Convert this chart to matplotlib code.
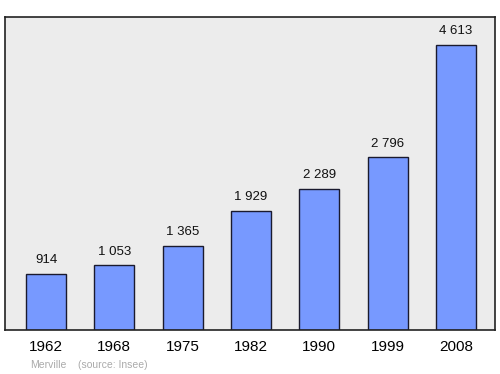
import matplotlib
matplotlib.use("Agg")
import matplotlib.pyplot as plt

years = ["1962", "1968", "1975", "1982", "1990", "1999", "2008"]
population = [914, 1053, 1365, 1929, 2289, 2796, 4613]
labels = ["914", "1 053", "1 365", "1 929", "2 289", "2 796", "4 613"]

plt.rcParams['font.family'] = ['Liberation Sans', 'DejaVu Sans']

fig = plt.figure(figsize=(5, 3.74), dpi=100)
ax = fig.add_axes([0.01, 0.1176, 0.98, 0.837])
ax.set_facecolor("#ececec")
x = list(range(len(years)))
ax.bar(x, population, width=0.585, color="#7799ff", edgecolor="#1a1a2e", linewidth=1.0)
for xi, v, lab in zip(x, population, labels):
    ax.text(xi, v + 120, lab, ha="center", va="bottom", fontsize=9.5, color="#111111")
ax.set_xlim(-0.6, 6.57)
ax.set_ylim(0, 5065)
ax.set_yticks([])
ax.set_xticks(x)
ax.set_xticklabels(years, fontsize=11)
ax.tick_params(axis="x", length=0, pad=7.5)
for s in ax.spines.values():
    s.set_color("#222222")
    s.set_linewidth(1.2)
fig.text(0.06, 0.015, "Merville", fontsize=7.5, color="#aaaaaa")
fig.text(0.156, 0.015, "(source: Insee)", fontsize=7.5, color="#aaaaaa")
fig.savefig("out.png", dpi=100)
